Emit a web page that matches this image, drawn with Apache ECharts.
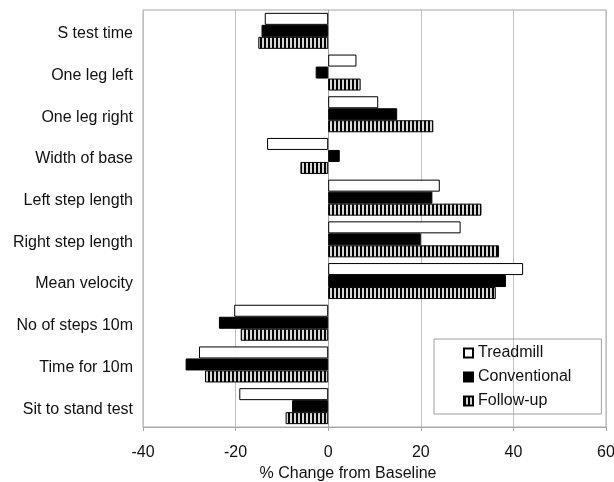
<!DOCTYPE html>
<html>
<head>
<meta charset="utf-8">
<script src="https://cdn.jsdelivr.net/npm/echarts@6/dist/echarts.min.js"></script>
<style>
html,body{margin:0;padding:0;background:#fff;}
#chart{width:614px;height:482px;}
</style>
</head>
<body>
<div id="chart"></div>
<script>
var categories = ["S test time","One leg left","One leg right","Width of base","Left step length","Right step length","Mean velocity","No of steps 10m","Time for 10m","Sit to stand test"];
var treadmill = [-13.7, 6.1, 10.8, -13.2, 24.1, 28.6, 42.1, -20.3, -27.9, -19.2];
var conventional = [-14.4, -2.7, 14.9, 2.5, 22.5, 20.0, 38.4, -23.6, -30.8, -7.8];
var followUp = [-15.1, 7.0, 22.7, -6.0, 33.1, 36.9, 36.2, -18.9, -26.6, -9.2];
var xTicks = [-40, -20, 0, 20, 40, 60];

var cv = document.createElement('canvas');
cv.width = 4; cv.height = 4;
var ctx = cv.getContext('2d');
ctx.fillStyle = '#d8d8d8'; ctx.fillRect(0,0,4,4);
ctx.fillStyle = '#000'; ctx.fillRect(0,0,2,4);
var stripe = {image: cv, repeat: 'repeat'};

var font = 'Liberation Sans, Arial, sans-serif';
var chart = echarts.init(document.getElementById('chart'));
chart.setOption({
  animation: false,
  textStyle: {fontFamily: font},
  grid: {left: 143, right: 8, top: 10, bottom: 55, show: true, borderColor: '#a8a8a8', borderWidth: 1,
         containLabel: false, outerBoundsMode: 'none'},
  legend: {
    orient: 'vertical', left: 434, top: 339, icon: 'rect',
    padding: [6, 30, 5, 29], itemGap: 8, itemWidth: 9, itemHeight: 9,
    borderColor: '#a0a0a0', borderWidth: 1,
    textStyle: {fontSize: 16, color: '#111', fontFamily: font},
    data: ['Treadmill', 'Conventional', 'Follow-up']
  },
  xAxis: {
    type: 'value', min: xTicks[0], max: xTicks[xTicks.length-1], interval: 20,
    axisLine: {show: true, lineStyle: {color: '#a8a8a8'}},
    axisTick: {show: true, length: 4, lineStyle: {color: '#a8a8a8'}},
    axisLabel: {fontSize: 16, color: '#111', margin: 18, fontFamily: font},
    splitLine: {show: true, lineStyle: {color: '#c0c0c0', width: 1}},
    name: '% Change from Baseline', nameLocation: 'middle', nameGap: 37,
    nameTextStyle: {fontSize: 16, color: '#111', padding: [0, 53, 0, 0], fontFamily: font}
  },
  yAxis: {
    type: 'category', data: categories, inverse: true,
    axisLine: {show: true, lineStyle: {color: '#a8a8a8'}},
    axisTick: {show: false},
    axisLabel: {fontSize: 16, color: '#111', margin: 10, verticalAlign: 'top', lineHeight: 6, fontFamily: font},
    splitLine: {show: false}
  },
  series: [
    {name: 'Treadmill', type: 'bar', data: treadmill, barWidth: 12, barGap: '0%',
     itemStyle: {color: '#ffffff', borderColor: '#000', borderWidth: 1}},
    {name: 'Conventional', type: 'bar', data: conventional, barWidth: 12, barGap: '0%',
     itemStyle: {color: '#000000', borderColor: '#000', borderWidth: 1}},
    {name: 'Follow-up', type: 'bar', data: followUp, barWidth: 12, barGap: '0%',
     itemStyle: {color: stripe, borderColor: '#000', borderWidth: 1}}
  ]
});
</script>
</body>
</html>
